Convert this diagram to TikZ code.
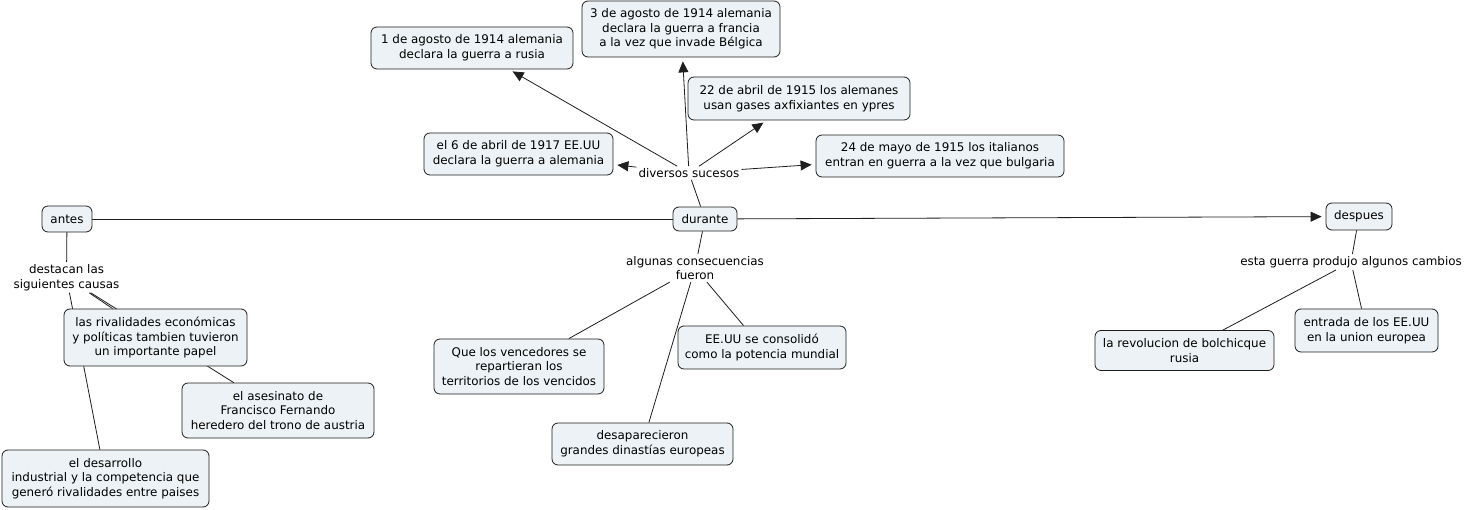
\documentclass[tikz,border=0pt]{standalone}
\usepackage{fontspec}
\setmainfont{DejaVu Sans}
\usetikzlibrary{arrows.meta,backgrounds}
\definecolor{boxfill}{RGB}{236,242,245}
\definecolor{edgecol}{RGB}{30,30,30}
\newcommand{\mapfont}{\fontsize{11.9}{14.6}\selectfont}
\tikzset{
  cbox/.style={draw=edgecol, fill=boxfill, rounded corners=6pt, align=center,
    inner xsep=4pt, inner ysep=2pt, font=\mapfont, line width=0.8pt},
  lab/.style={align=center, inner sep=2pt, font=\mapfont},
  conn/.style={draw=edgecol, line width=0.8pt},
  arr/.style={conn, -{Triangle[length=11pt,width=10pt]}, shorten >=4pt},
}
\begin{document}
\begin{tikzpicture}[x=1pt,y=-1pt]
\useasboundingbox (0,0) rectangle (1469,510);
% nodes
\node[cbox, minimum width=202pt, minimum height=42pt] (n1) at (472,48) {1 de agosto de 1914 alemania\\declara la guerra a rusia};
\node[cbox, minimum width=198pt, minimum height=56pt] (n3) at (681,29) {3 de agosto de 1914 alemania\\declara la guerra a francia\\a la vez que invade Bélgica};
\node[cbox, minimum width=222pt, minimum height=43pt] (n22) at (799,98.5) {22 de abril de 1915 los alemanes\\usan gases axfixiantes en ypres};
\node[cbox, minimum width=189pt, minimum height=42pt] (n6) at (518.5,154) {el 6 de abril de 1917 EE.UU\\declara la guerra a alemania};
\node[cbox, minimum width=248pt, minimum height=42pt] (n24) at (940,156) {24 de mayo de 1915 los italianos\\entran en guerra a la vez que bulgaria};
\node[lab] (div) at (689,173) {diversos sucesos};
\node[cbox, minimum width=50pt, minimum height=26pt] (antes) at (67,219) {antes};
\node[cbox, minimum width=64pt, minimum height=24pt] (durante) at (705,219) {durante};
\node[cbox, minimum width=66pt, minimum height=27pt] (despues) at (1359,216.5) {despues};
\node[lab] (dest) at (66.5,277.5) {destacan las\\siguientes causas};
\node[cbox, minimum width=183pt, minimum height=57pt] (rival) at (155.5,337.5) {las rivalidades económicas\\y políticas tambien tuvieron\\un importante papel};
\node[cbox, minimum width=192pt, minimum height=55pt] (ases) at (278,410.5) {el asesinato de\\Francisco Fernando\\heredero del trono de austria};
\node[cbox, minimum width=207pt, minimum height=57pt] (desa) at (105.5,478.5) {el desarrollo\\industrial y la competencia que\\generó rivalidades entre paises};
\node[lab] (alg) at (695,268) {algunas consecuencias\\fueron};
\node[cbox, minimum width=170pt, minimum height=55pt] (que) at (519,366.5) {Que los vencedores se\\repartieran los\\territorios de los vencidos};
\node[cbox, minimum width=168pt, minimum height=43pt] (eeuu) at (762,347.5) {EE.UU se consolidó\\como la potencia mundial};
\node[cbox, minimum width=181pt, minimum height=42pt] (dinas) at (642.5,444) {desaparecieron\\grandes dinastías europeas};
\node[lab] (esta) at (1351,262) {esta guerra produjo algunos cambios};
\node[cbox, minimum width=179pt, minimum height=40pt] (revol) at (1184.5,350.5) {la revolucion de bolchicque\\rusia};
\node[cbox, minimum width=143pt, minimum height=43pt] (entr) at (1366.5,330.5) {entrada de los EE.UU\\en la union europea};
% connectors
\begin{scope}[on background layer]
\fill[white] (0,0) rectangle (1469,510);
\draw[conn] (antes) -- (durante);
\draw[arr] (durante) -- (despues);
\draw[conn] (durante) -- (div);
\draw[arr] (div) -- (n1);
\draw[arr] (div) -- (n3);
\draw[arr] (div) -- (n22);
\draw[arr] (div) -- (n6);
\draw[arr] (div) -- (n24);
\draw[conn] (antes) -- (dest);
\draw[conn] (dest) -- (rival);
\draw[conn] (dest) -- (ases);
\draw[conn] (dest) -- (desa);
\draw[conn] (durante) -- (alg);
\draw[conn] (alg) -- (que);
\draw[conn] (alg) -- (dinas);
\draw[conn] (alg) -- (eeuu);
\draw[conn] (despues) -- (esta);
\draw[conn] (esta) -- (revol);
\draw[conn] (esta) -- (entr);
\end{scope}
\end{tikzpicture}
\end{document}
